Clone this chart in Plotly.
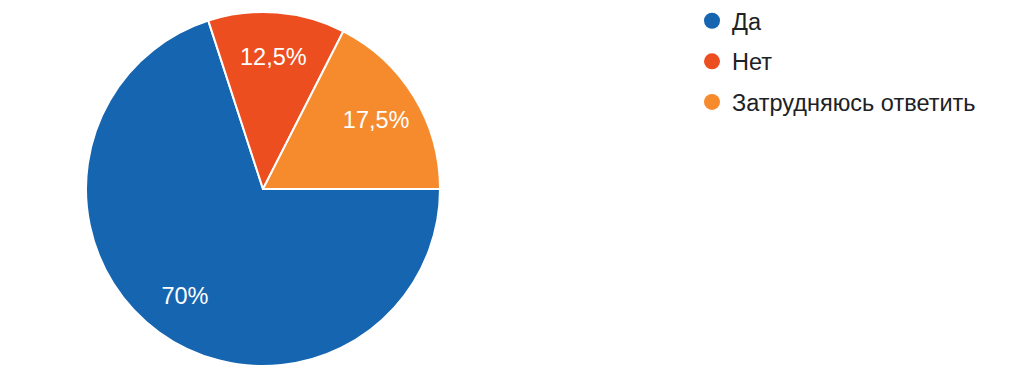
import plotly.graph_objects as go

labels = ["Да", "Нет", "Затрудняюсь ответить"]
values = [70, 12.5, 17.5]
colors = ["#1665b1", "#ec4e20", "#f68b2d"]

W, H = 1034, 383
# page body has an 8px margin, so positions are shifted accordingly
cx, cy, r = 255, 181, 177
dom = dict(x=[(cx - r) / W, (cx + r) / W], y=[(H - cy - r) / H, (H - cy + r) / H])
FONT = "Arial, Liberation Sans, sans-serif"

fig = go.Figure()
fig.add_trace(go.Pie(
    labels=labels, values=values, sort=False,
    direction="clockwise", rotation=90,
    marker=dict(colors=colors, line=dict(color="white", width=2)),
    textinfo="none", showlegend=False, hoverinfo="label+percent",
    domain=dom,
))
# transparent ring carrying the percentage labels at ~3/4 radius
fig.add_trace(go.Pie(
    labels=labels, values=values, sort=False, hole=0.5,
    direction="clockwise", rotation=90,
    marker=dict(colors=["rgba(0,0,0,0)"] * len(values), line=dict(width=0)),
    textinfo="percent", textposition="inside",
    insidetextorientation="horizontal",
    textfont=dict(color="white", size=23.5, family=FONT),
    showlegend=False, hoverinfo="skip",
    domain=dom,
))

for i, (lab, col) in enumerate(zip(labels, colors)):
    fig.add_trace(go.Scatter(
        x=[None], y=[None], mode="markers", name=lab,
        marker=dict(color=col, size=22, symbol="circle"),
        legendgroup=f"g{i}", showlegend=True,
    ))

fig.update_layout(
    width=W, height=H,
    margin=dict(l=0, r=0, t=0, b=0, autoexpand=False),
    paper_bgcolor="white", plot_bgcolor="white",
    separators=", ",
    xaxis=dict(visible=False), yaxis=dict(visible=False),
    legend=dict(
        x=684 / W, y=1 + 9 / H, xanchor="left", yanchor="top",
        font=dict(size=23.5, color="#202124", family=FONT),
        tracegroupgap=7, itemsizing="trace",
    ),
)

fig.write_html("out.html")
